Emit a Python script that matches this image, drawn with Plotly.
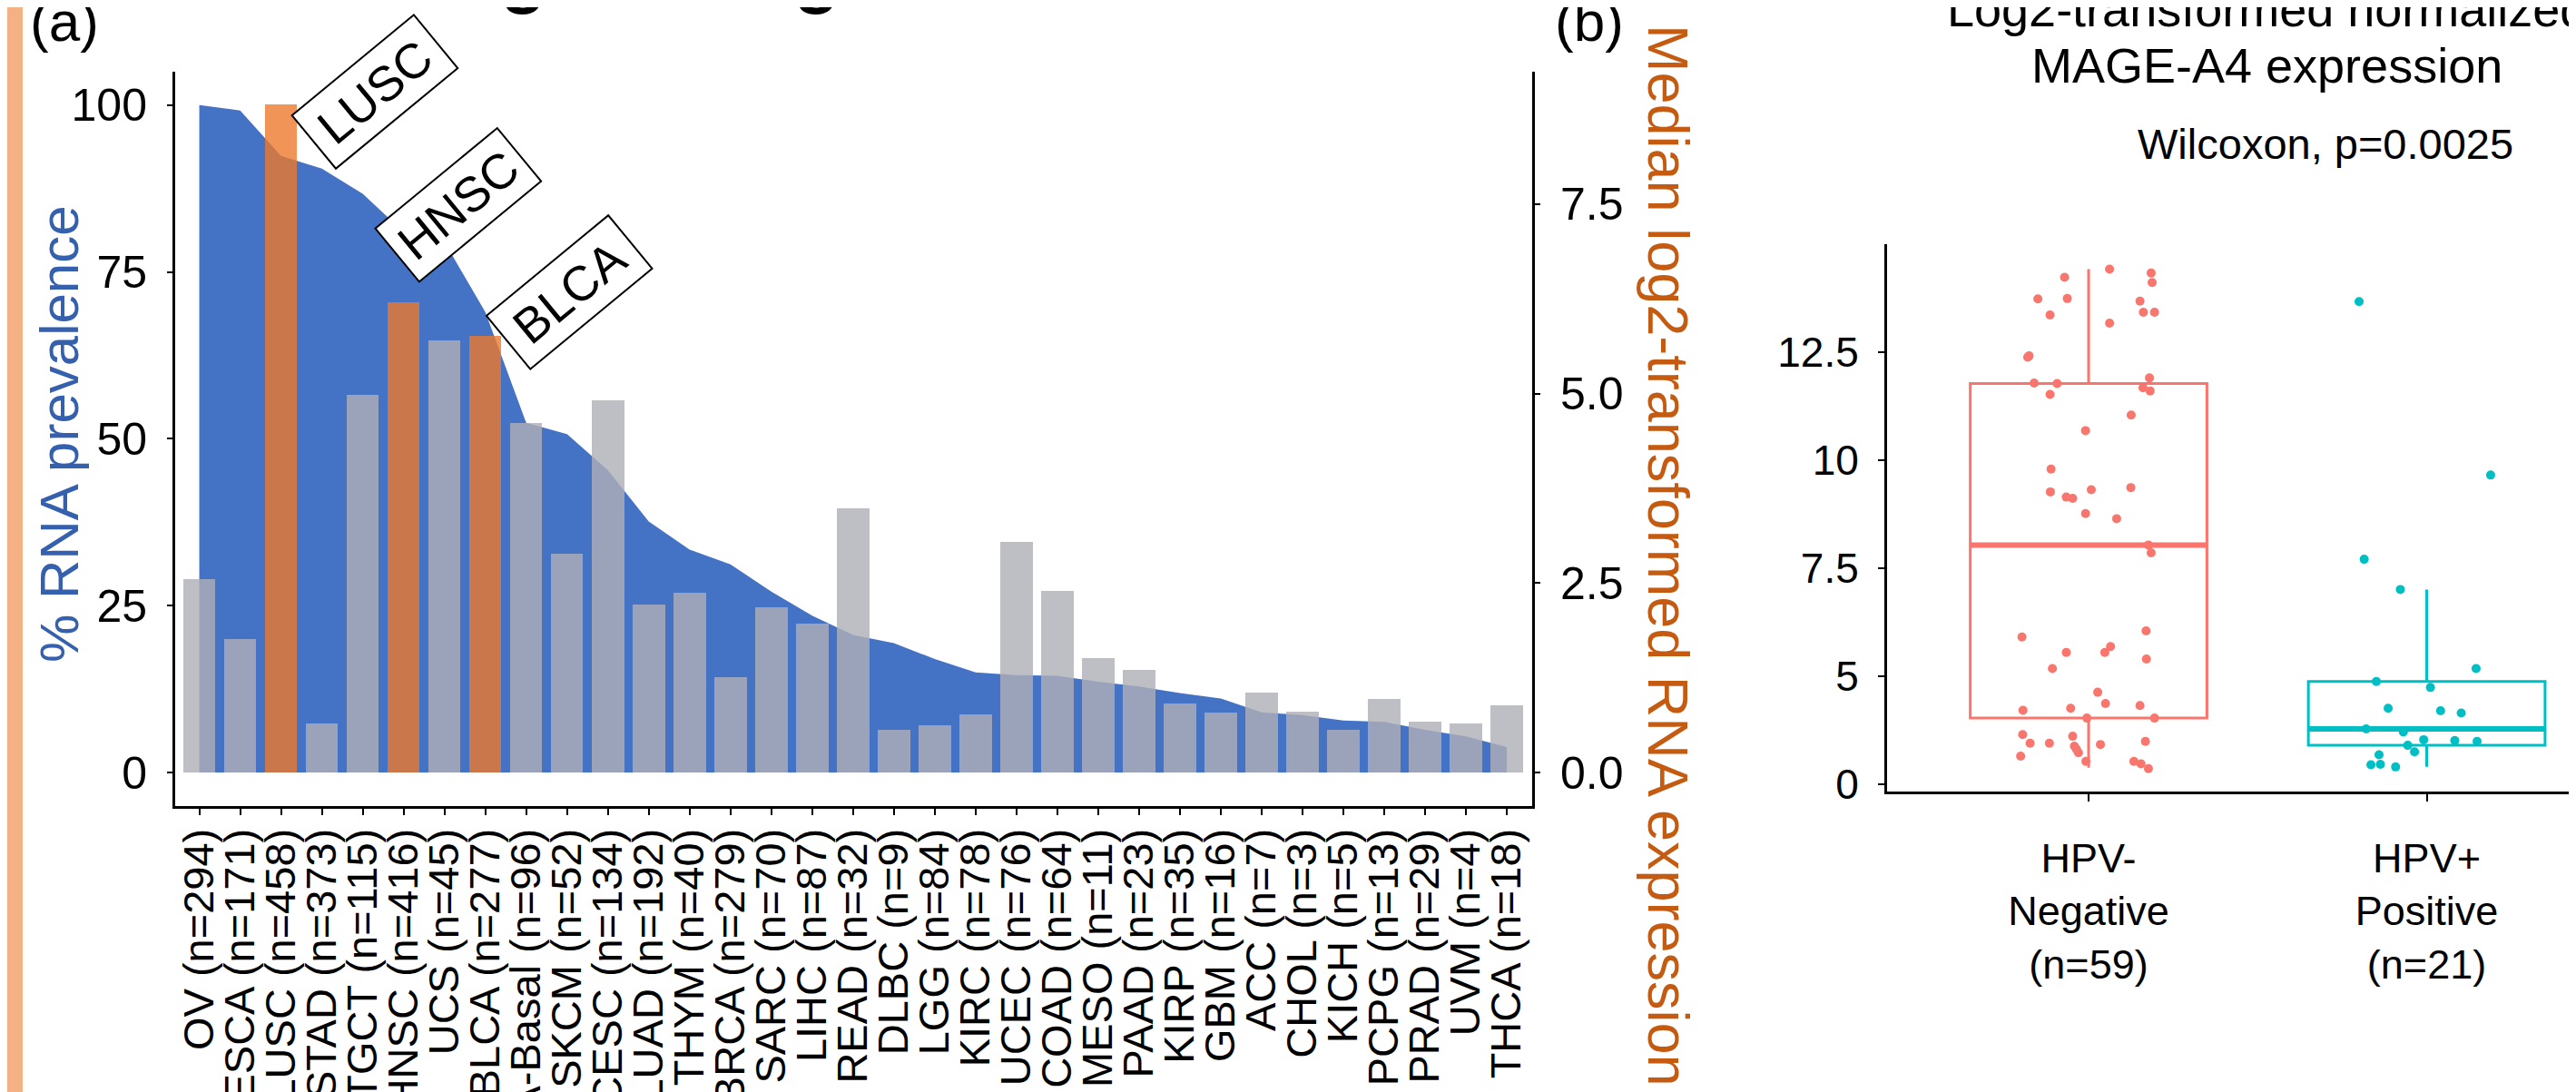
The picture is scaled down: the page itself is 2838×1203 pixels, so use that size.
import plotly.graph_objects as go

# ---------------- data: panel (a) ----------------
cancer_types = ["OV", "ESCA", "LUSC", "STAD", "TGCT", "HNSC", "UCS", "BLCA", "BRCA-Basal",
                "SKCM", "CESC", "LUAD", "THYM", "BRCA", "SARC", "LIHC", "READ", "DLBC",
                "LGG", "KIRC", "UCEC", "COAD", "MESO", "PAAD", "KIRP", "GBM", "ACC",
                "CHOL", "KICH", "PCPG", "PRAD", "UVM", "THCA"]
sample_sizes = [294, 171, 458, 373, 115, 416, 45, 277, 96, 52, 134, 192, 40, 279, 70, 87,
                32, 9, 84, 78, 76, 64, 11, 23, 35, 16, 7, 3, 5, 13, 29, 4, 18]
prevalence_pct = [100.0, 99.2, 92.4, 90.5, 86.7, 81.0, 79.5, 69.0, 52.4, 50.7, 45.3, 37.6,
                  33.4, 31.2, 27.1, 23.5, 20.6, 19.4, 17.0, 15.0, 14.6, 14.5, 13.6, 12.9,
                  11.9, 11.1, 9.0, 8.6, 7.8, 7.6, 6.4, 5.4, 3.8]
median_log2 = [2.56, 1.77, 8.82, 0.65, 4.99, 6.21, 5.70, 5.77, 4.61, 2.89, 4.91, 2.22,
               2.38, 1.26, 2.18, 1.97, 3.49, 0.57, 0.63, 0.77, 3.05, 2.40, 1.51, 1.36,
               0.91, 0.79, 1.06, 0.81, 0.57, 0.97, 0.67, 0.65, 0.89]
highlighted = ["LUSC", "HNSC", "BLCA"]
label_x = [4.30, 6.33, 9.05]      # category index position of the boxed labels
label_y = [102.0, 85.0, 72.0]     # left-axis position of the boxed labels

# ---------------- data: panel (b) ----------------
groups = ["HPV-<br>Negative<br>(n=59)", "HPV+<br>Positive<br>(n=21)"]
box_q1 = [4.03, 3.40]
box_median = [8.04, 3.78]
box_q3 = [11.78, 4.88]
box_lower = [2.88, 2.90]
box_upper = [14.43, 7.01]
neg_values = [14.43, 14.24, 14.34, 14.12, 13.74, 13.75, 13.69, 13.37, 13.43, 13.43, 13.18,
              12.39, 12.42, 11.79, 11.78, 11.91, 11.68, 11.61, 11.53, 11.05, 10.69, 9.80,
              9.27, 9.32, 9.37, 9.15, 9.12, 8.77, 8.65, 8.04, 7.86, 5.91, 6.05, 5.55, 5.55,
              5.69, 5.40, 5.18, 4.63, 4.37, 4.21, 4.26, 4.32, 4.03, 4.03, 3.65, 3.45, 3.45,
              3.61, 3.42, 3.49, 3.38, 3.31, 3.23, 3.15, 3.03, 3.03, 2.97, 2.86]
neg_jitter = [0.062, -0.071, 0.185, 0.188, -0.150, -0.063, 0.152, -0.114, 0.162, 0.195,
              0.062, -0.180, -0.176, -0.161, -0.093, 0.180, 0.161, 0.182, -0.114, 0.126,
              -0.009, -0.111, -0.113, 0.008, 0.125, -0.066, -0.047, -0.009, 0.083, 0.177,
              0.185, -0.197, 0.170, -0.066, 0.048, 0.065, 0.171, -0.107, 0.027, 0.050,
              -0.194, -0.053, 0.152, -0.005, 0.195, -0.195, -0.173, -0.116, -0.047, 0.035,
              0.168, -0.042, -0.036, -0.030, -0.201, -0.008, 0.134, 0.155, 0.177]
pos_values = [13.68, 9.66, 7.71, 7.01, 5.18, 4.88, 4.74, 4.26, 4.20, 4.15, 3.78, 3.71,
              3.53, 3.51, 3.49, 3.40, 3.25, 3.18, 2.95, 2.96, 2.90]
pos_jitter = [-0.200, 0.189, -0.185, -0.078, 0.146, -0.149, 0.011, -0.114, 0.041, 0.102,
              -0.179, -0.069, -0.009, 0.083, 0.149, -0.056, -0.036, -0.141, -0.165, -0.137,
              -0.092]
y_tick_vals_b = [2.5, 5, 7.5, 10, 12.5]
y_tick_text_b = ["0", "5", "7.5", "10", "12.5"]

# ---------------- style ----------------
W, H = 2838, 1203
FONT = "Liberation Sans, Arial, Helvetica, sans-serif"
BLUE = "#4472C4"
GRAY = "rgba(175,175,184,0.81)"
ORANGE = "rgba(236,121,45,0.80)"
NEG_C = "#F8766D"
POS_C = "#00BFC4"

def px_x(p):
    return p / W

def px_y(p):
    return 1 - p / H

# left/right axis scaling (right = left * k)
left_range = [-5.03, 105.06]
k = 0.08805
right_range = [left_range[0] * k, left_range[1] * k]

tick_labels = [f"{c} (n={n})" for c, n in zip(cancer_types, sample_sizes)]
bar_colors = [ORANGE if c in highlighted else GRAY for c in cancer_types]

fig = go.Figure()

# blue prevalence area (left axis)
fig.add_trace(go.Scatter(
    x=tick_labels, y=prevalence_pct, mode="lines", fill="tozeroy",
    line=dict(width=0, color=BLUE), fillcolor=BLUE,
    xaxis="x", yaxis="y", showlegend=False, hoverinfo="skip"))

# median expression bars (right axis)
fig.add_trace(go.Bar(
    x=tick_labels, y=median_log2, marker=dict(color=bar_colors, line=dict(width=0)),
    width=0.79, xaxis="x", yaxis="y2", showlegend=False))

# panel (b): boxes
for i, c in enumerate([NEG_C, POS_C]):
    fig.add_trace(go.Box(
        x=[i + 1], q1=[box_q1[i]], median=[box_median[i]], q3=[box_q3[i]],
        lowerfence=[box_lower[i]], upperfence=[box_upper[i]],
        width=0.7, whiskerwidth=0, boxpoints=False,
        line=dict(color=c, width=3), fillcolor="rgba(0,0,0,0)",
        xaxis="x2", yaxis="y3", showlegend=False))
    fig.add_trace(go.Scatter(
        x=[i + 1 - 0.35, i + 1 + 0.35], y=[box_median[i], box_median[i]],
        mode="lines", line=dict(color=c, width=6),
        xaxis="x2", yaxis="y3", showlegend=False, hoverinfo="skip"))

fig.add_trace(go.Scatter(
    x=[1 + j for j in neg_jitter], y=neg_values, mode="markers",
    marker=dict(color=NEG_C, size=10, line=dict(width=0)),
    xaxis="x2", yaxis="y3", showlegend=False))
fig.add_trace(go.Scatter(
    x=[2 + j for j in pos_jitter], y=pos_values, mode="markers",
    marker=dict(color=POS_C, size=10, line=dict(width=0)),
    xaxis="x2", yaxis="y3", showlegend=False))

axis_common = dict(showgrid=False, zeroline=False, showline=True, linecolor="black",
                   linewidth=3, ticks="outside", tickcolor="black", tickwidth=2,
                   automargin=False)

annotations = []
for name, lx, ly in zip(highlighted, label_x, label_y):
    annotations.append(dict(
        x=lx, y=ly, xref="x", yref="y", text=name, showarrow=False, textangle=-39.5,
        font=dict(family=FONT, size=54, color="black"), bgcolor="white",
        bordercolor="black", borderwidth=2, borderpad=0, width=172, height=74,
        xanchor="center", yanchor="middle"))

annotations += [
    dict(x=px_x(63), y=px_y(15), xref="paper", yref="paper", text="(a)", showarrow=False,
         font=dict(family=FONT, size=62, color="black"), xanchor="center", yanchor="middle"),
    dict(x=px_x(1743), y=px_y(15), xref="paper", yref="paper", text="(b)", showarrow=False,
         font=dict(family=FONT, size=62, color="black"), xanchor="center", yanchor="middle"),
    dict(x=px_x(268), y=px_y(-38), xref="paper", yref="paper",
         text="<b>Ranking the target cancers</b>", showarrow=False,
         font=dict(family=FONT, size=82, color="black"), xanchor="left", yanchor="middle"),
    dict(x=px_x(57), y=px_y(470), xref="paper", yref="paper", text="% RNA prevalence",
         showarrow=False, textangle=-90,
         font=dict(family=FONT, size=60, color="#3560AD"), xanchor="center", yanchor="middle"),
    dict(x=px_x(1830), y=px_y(604), xref="paper", yref="paper",
         text="Median log2-transformed RNA expression", showarrow=False, textangle=90,
         font=dict(family=FONT, size=63, color="#C55A11"), xanchor="center", yanchor="middle"),
    dict(x=px_x(2489), y=px_y(2), xref="paper", yref="paper",
         text="Log2-transformed normalized", showarrow=False,
         font=dict(family=FONT, size=54, color="black"), xanchor="center", yanchor="middle"),
    dict(x=px_x(2489), y=px_y(64), xref="paper", yref="paper",
         text="MAGE-A4 expression", showarrow=False,
         font=dict(family=FONT, size=54, color="black"), xanchor="center", yanchor="middle"),
    dict(x=px_x(2554), y=px_y(150), xref="paper", yref="paper",
         text="Wilcoxon, p=0.0025", showarrow=False,
         font=dict(family=FONT, size=47, color="black"), xanchor="center", yanchor="middle"),
]

fig.update_layout(
    width=W, height=H, autosize=False,
    margin=dict(l=0, r=0, t=0, b=0, pad=0),
    paper_bgcolor="white", plot_bgcolor="rgba(0,0,0,0)",
    font=dict(family=FONT, color="black"),
    showlegend=False, bargap=0,
    xaxis=dict(axis_common, domain=[px_x(185), px_x(1680)], anchor="y",
               type="category", range=[-0.59, 32.62], tickmode="linear", tick0=0, dtick=1,
               tickangle=-90, ticklen=7, tickfont=dict(size=47), ticklabelstandoff=-4),
    yaxis=dict(axis_common, domain=[px_y(880), px_y(70.6)], anchor="x",
               range=left_range, tickvals=[0, 25, 50, 75, 100], ticklen=6,
               tickfont=dict(size=50), ticklabelstandoff=12),
    yaxis2=dict(axis_common, overlaying="y", side="right", anchor="x",
                range=right_range, tickvals=[0, 2.5, 5, 7.5], tickformat=".1f",
                ticklen=6, tickfont=dict(size=50), ticklabelstandoff=12),
    xaxis2=dict(axis_common, domain=[px_x(2071), 1.0], anchor="y3",
                range=[0.404, 2.463], tickvals=[1, 2], ticktext=groups, ticklen=8,
                tickfont=dict(size=45), ticklabelstandoff=24),
    yaxis3=dict(axis_common, domain=[px_y(863.5), px_y(261.4)], anchor="x2",
                range=[2.34, 15.0], tickvals=y_tick_vals_b, ticktext=y_tick_text_b,
                ticklen=7, tickfont=dict(size=46), ticklabelstandoff=12),
    annotations=annotations,
    shapes=[dict(type="rect", xref="paper", yref="paper", x0=0, x1=px_x(17), y0=0, y1=1,
                 fillcolor="#F4B183", line=dict(width=0), layer="below")],
)

fig.write_html("out.html")
